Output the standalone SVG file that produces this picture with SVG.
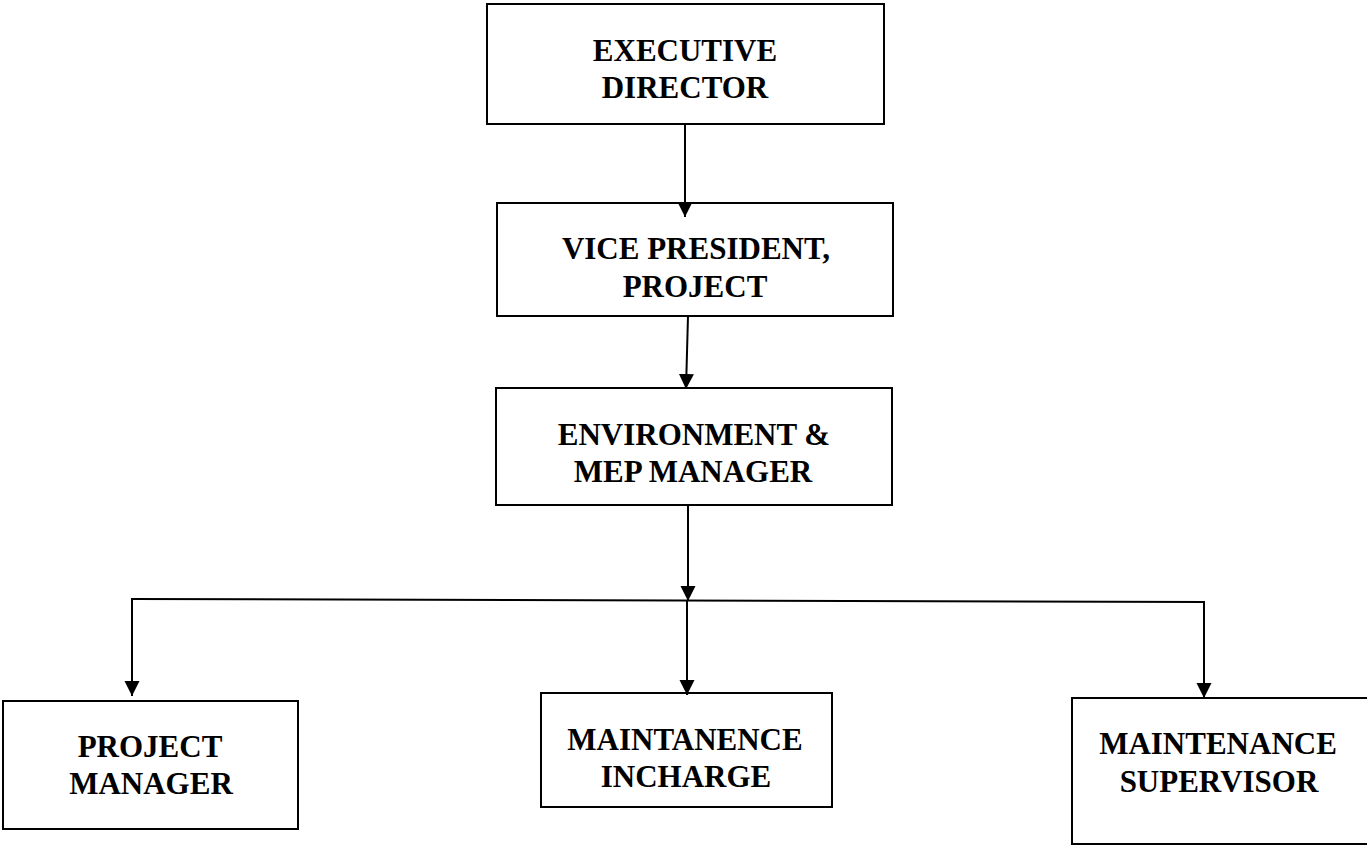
<svg xmlns="http://www.w3.org/2000/svg" width="1367" height="846" viewBox="0 0 1367 846">
<style>
.box{fill:#fff;stroke:#000;stroke-width:2}
.lbl{font-family:"Liberation Serif","Times New Roman",serif;font-weight:bold;font-size:31px;fill:#000;text-anchor:middle}
.con{fill:none;stroke:#000;stroke-width:2}
</style>
<defs>
<marker id="arr" markerUnits="userSpaceOnUse" markerWidth="16" markerHeight="16" viewBox="0 0 16 16" refX="15" refY="8" orient="auto">
<path d="M0,0.5 L15,8 L0,15.5 Z" fill="#000"/>
</marker>
</defs>
<rect width="1367" height="846" fill="#fff"/>
<g id="n-executive-director">
<rect class="box" x="487" y="4" width="397" height="120"/>
<text class="lbl" x="685" y="61">EXECUTIVE</text>
<text class="lbl" x="685" y="98">DIRECTOR</text>
</g>
<g id="n-vice-president">
<rect class="box" x="497" y="203" width="396" height="113"/>
<text class="lbl" x="696" y="259">VICE PRESIDENT,</text>
<text class="lbl" x="695" y="297">PROJECT</text>
</g>
<g id="n-env-mep-manager">
<rect class="box" x="496" y="388" width="396" height="117"/>
<text class="lbl" x="694" y="445">ENVIRONMENT &amp;</text>
<text class="lbl" x="693" y="482">MEP MANAGER</text>
</g>
<g id="n-project-manager">
<rect class="box" x="3" y="701" width="295" height="128"/>
<text class="lbl" x="150" y="757">PROJECT</text>
<text class="lbl" x="151" y="794">MANAGER</text>
</g>
<g id="n-maintanence-incharge">
<rect class="box" x="541" y="693" width="291" height="114"/>
<text class="lbl" x="685" y="750">MAINTANENCE</text>
<text class="lbl" x="686" y="787">INCHARGE</text>
</g>
<g id="n-maintenance-supervisor">
<rect class="box" x="1072" y="698" width="300" height="146"/>
<text class="lbl" x="1218" y="754">MAINTENANCE</text>
<text class="lbl" x="1219" y="792">SUPERVISOR</text>
</g>
<g id="connectors">
<line class="con" x1="685" y1="124" x2="685" y2="217" marker-end="url(#arr)"/>
<line class="con" x1="688" y1="316" x2="686" y2="389" marker-end="url(#arr)"/>
<line class="con" x1="688" y1="505" x2="688" y2="601" marker-end="url(#arr)"/>
<line class="con" x1="131" y1="599" x2="1205" y2="602"/>
<line class="con" x1="132" y1="599" x2="132" y2="696" marker-end="url(#arr)"/>
<line class="con" x1="687" y1="601" x2="687" y2="695" marker-end="url(#arr)"/>
<line class="con" x1="1204" y1="602" x2="1204" y2="698" marker-end="url(#arr)"/>
</g>
</svg>
